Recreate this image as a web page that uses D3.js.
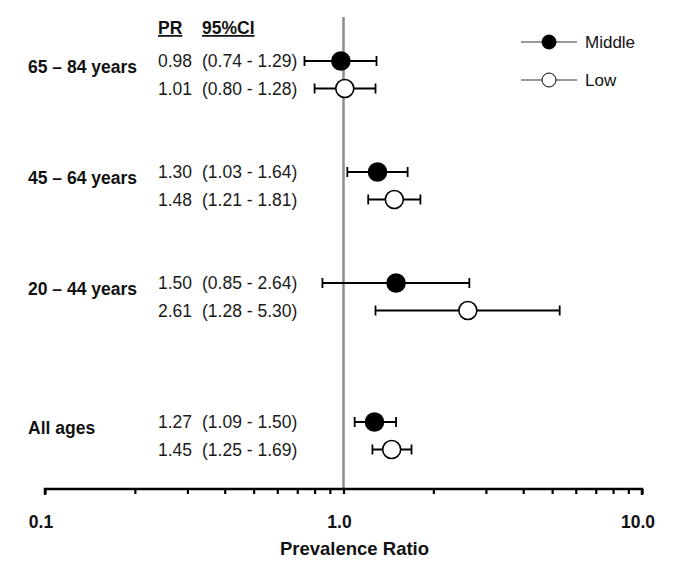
<!DOCTYPE html>
<html><head><meta charset="utf-8">
<script src="https://cdn.jsdelivr.net/npm/d3@7"></script>
<style>body{margin:0;background:#fff}svg{font-family:"Liberation Sans",Arial,sans-serif}</style>
</head><body><svg id="c" width="685" height="565"></svg>
<script>
const groups = ["65 – 84 years","45 – 64 years","20 – 44 years","All ages"];
const middlePR = [0.98,1.30,1.50,1.27];
const middleLo = [0.74,1.03,0.85,1.09];
const middleHi = [1.29,1.64,2.64,1.50];
const lowPR = [1.01,1.48,2.61,1.45];
const lowLo = [0.80,1.21,1.28,1.25];
const lowHi = [1.28,1.81,5.30,1.69];
const seriesNames = ["Middle","Low"];
const tickLabels = ["0.1","1.0","10.0"];
const tickValues = [0.1,1,10];

const svg = d3.select("#c");
const x = d3.scaleLog().domain([0.1,10]).range([45,642]);
const axisY = 489;
const groupY = d3.scaleOrdinal().domain(groups).range([61,172,283,422]);
const gap = 27.5;

// reference line at 1.0
svg.append("line").attr("x1",x(1)).attr("x2",x(1)).attr("y1",17).attr("y2",axisY)
  .attr("stroke","#8c8c8c").attr("stroke-width",2.5);

// axis
const minor = [];
for (let d=0.1; d<10; d*=10) for (let k=2;k<=9;k++) minor.push(+(d*k).toFixed(2));
const ax = d3.axisBottom(x).tickValues(minor.concat(tickValues)).tickSize(5).tickFormat("");
const g = svg.append("g").attr("transform",`translate(0,${axisY})`).call(ax);
g.select(".domain").attr("stroke","#000").attr("stroke-width",2.5).attr("d",`M${x(0.1)},6V0H${x(10)}V6`);
g.selectAll(".tick line").attr("stroke","#000").attr("stroke-width",2.2);
tickValues.forEach((v,i)=>{
  svg.append("text").attr("x",x(v)-4).attr("y",528).attr("text-anchor","middle")
    .attr("font-size",17.5).attr("font-weight","bold").attr("fill","#111").text(tickLabels[i]);
});
svg.append("text").attr("x",x(1)+11).attr("y",555).attr("text-anchor","middle")
  .attr("font-size",18.5).attr("font-weight","bold").attr("fill","#111").text("Prevalence Ratio");

// headers
svg.append("text").attr("x",158).attr("y",34).attr("font-size",17.5).attr("font-weight","bold")
  .attr("fill","#111").attr("text-decoration","underline").text("PR");
svg.append("text").attr("x",202).attr("y",34).attr("font-size",17.5).attr("font-weight","bold")
  .attr("fill","#111").attr("text-decoration","underline").text("95%CI");

const series = [
  {pr:middlePR, lo:middleLo, hi:middleHi, fill:"#000", off:0},
  {pr:lowPR, lo:lowLo, hi:lowHi, fill:"#fff", off:gap}
];
groups.forEach((gname,i)=>{
  const gy = groupY(gname);
  svg.append("text").attr("x",28).attr("y",gy+12).attr("font-size",17.5)
    .attr("font-weight","bold").attr("fill","#111").text(gname);
  series.forEach(s=>{
    const y = gy+s.off;
    svg.append("text").attr("x",158).attr("y",y+6).attr("font-size",17.5).attr("fill","#1a1a1a")
      .text(s.pr[i].toFixed(2));
    svg.append("text").attr("x",202).attr("y",y+6).attr("font-size",17.5).attr("fill","#1a1a1a")
      .text(`(${s.lo[i].toFixed(2)} - ${s.hi[i].toFixed(2)})`);
    svg.append("line").attr("x1",x(s.lo[i])).attr("x2",x(s.hi[i])).attr("y1",y).attr("y2",y)
      .attr("stroke","#000").attr("stroke-width",1.8);
    [s.lo[i],s.hi[i]].forEach(v=>svg.append("line").attr("x1",x(v)).attr("x2",x(v))
      .attr("y1",y-5).attr("y2",y+5).attr("stroke","#000").attr("stroke-width",1.8));
    svg.append("circle").attr("cx",x(s.pr[i])).attr("cy",y).attr("r",9)
      .attr("fill",s.fill).attr("stroke","#000").attr("stroke-width",1.6);
  });
});

// legend
seriesNames.forEach((n,i)=>{
  const y = 42 + i*38;
  svg.append("line").attr("x1",521).attr("x2",577).attr("y1",y).attr("y2",y)
    .attr("stroke","#333").attr("stroke-width",1);
  svg.append("circle").attr("cx",549).attr("cy",y).attr("r",7)
    .attr("fill",series[i].fill).attr("stroke","#000").attr("stroke-width",1);
  svg.append("text").attr("x",585).attr("y",y+6).attr("font-size",17).attr("fill","#111").text(n);
});
</script></body></html>
